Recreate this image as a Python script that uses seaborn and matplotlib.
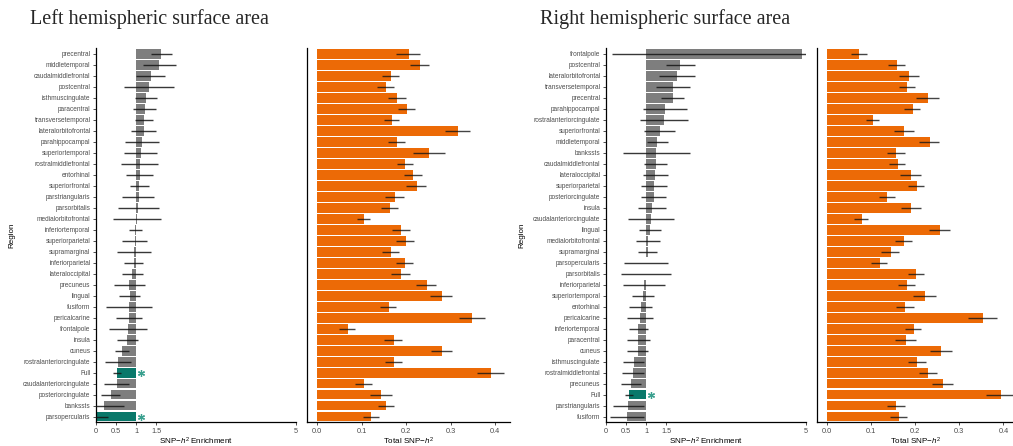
import numpy as np
import pandas as pd
import matplotlib
matplotlib.use("Agg")
import matplotlib.pyplot as plt
import seaborn as sns

# ---------------- Left hemisphere ----------------
left_regions = [
    "precentral", "middletemporal", "caudalmiddlefrontal", "postcentral",
    "isthmuscingulate", "paracentral", "transversetemporal", "lateralorbitofrontal",
    "parahippocampal", "superiortemporal", "rostralmiddlefrontal", "entorhinal",
    "superiorfrontal", "parstriangularis", "parsorbitalis", "medialorbitofrontal",
    "inferiortemporal", "superiorparietal", "supramarginal", "inferiorparietal",
    "lateraloccipital", "precuneus", "lingual", "fusiform", "pericalcarine",
    "frontalpole", "insula", "cuneus", "rostralanteriorcingulate", "Full",
    "caudalanteriorcingulate", "posteriorcingulate", "bankssts", "parsopercularis",
]
left_enrich = [1.63, 1.58, 1.37, 1.33, 1.25, 1.22, 1.20, 1.20, 1.15, 1.12, 1.10, 1.09,
               1.08, 1.07, 1.06, 1.02, 0.98, 0.975, 0.96, 0.95, 0.91, 0.83, 0.84, 0.82,
               0.82, 0.80, 0.78, 0.65, 0.54, 0.525, 0.52, 0.375, 0.19, 0.025]
left_enrich_lo = [1.38, 1.18, 0.99, 0.70, 0.98, 0.93, 0.97, 0.88, 0.73, 0.70, 0.63, 0.74,
                  0.85, 0.66, 0.55, 0.42, 0.83, 0.66, 0.53, 0.71, 0.64, 0.45, 0.58, 0.24,
                  0.50, 0.33, 0.53, 0.47, 0.22, 0.43, 0.20, 0.13, -0.10, -0.10]
left_enrich_hi = [1.90, 2.00, 1.73, 1.95, 1.52, 1.50, 1.43, 1.51, 1.58, 1.52, 1.54, 1.43,
                  1.32, 1.46, 1.57, 1.63, 1.14, 1.28, 1.37, 1.18, 1.18, 1.22, 1.10, 1.40,
                  1.14, 1.27, 1.06, 0.82, 0.88, 0.63, 0.82, 0.61, 0.71, 0.29]
left_sig = ["Full", "parsopercularis"]
left_h2 = [0.207, 0.231, 0.166, 0.155, 0.180, 0.202, 0.169, 0.317, 0.180, 0.252, 0.198,
           0.216, 0.225, 0.175, 0.164, 0.106, 0.189, 0.200, 0.166, 0.198, 0.189, 0.247,
           0.281, 0.162, 0.348, 0.070, 0.173, 0.281, 0.173, 0.391, 0.106, 0.144, 0.155,
           0.121]
left_h2_lo = [0.178, 0.209, 0.145, 0.135, 0.160, 0.183, 0.150, 0.288, 0.160, 0.216, 0.180,
              0.195, 0.200, 0.153, 0.144, 0.090, 0.169, 0.178, 0.146, 0.178, 0.166, 0.223,
              0.255, 0.142, 0.318, 0.050, 0.151, 0.256, 0.153, 0.359, 0.085, 0.120, 0.137,
              0.103]
left_h2_hi = [0.232, 0.251, 0.184, 0.172, 0.200, 0.220, 0.185, 0.343, 0.198, 0.287, 0.215,
              0.235, 0.246, 0.195, 0.181, 0.120, 0.208, 0.219, 0.185, 0.216, 0.208, 0.268,
              0.303, 0.178, 0.378, 0.085, 0.190, 0.304, 0.192, 0.421, 0.123, 0.168, 0.174,
              0.139]

# ---------------- Right hemisphere ----------------
right_regions = [
    "frontalpole", "postcentral", "lateralorbitofrontal", "transversetemporal",
    "precentral", "parahippocampal", "rostralanteriorcingulate", "superiorfrontal",
    "middletemporal", "bankssts", "caudalmiddlefrontal", "lateraloccipital",
    "superiorparietal", "posteriorcingulate", "insula", "caudalanteriorcingulate",
    "lingual", "medialorbitofrontal", "supramarginal", "parsopercularis",
    "parsorbitalis", "inferiorparietal", "superiortemporal", "entorhinal",
    "pericalcarine", "inferiortemporal", "paracentral", "cuneus", "isthmuscingulate",
    "rostralmiddlefrontal", "precuneus", "Full", "parstriangularis", "fusiform",
]
right_enrich = [4.90, 1.85, 1.775, 1.67, 1.67, 1.47, 1.44, 1.34, 1.275, 1.26, 1.24, 1.225,
                1.21, 1.19, 1.15, 1.125, 1.11, 1.04, 1.04, 1.01, 1.00, 0.95, 0.925, 0.867,
                0.85, 0.81, 0.81, 0.80, 0.70, 0.675, 0.633, 0.575, 0.56, 0.525]
right_enrich_lo = [0.15, 1.49, 1.33, 1.26, 1.38, 0.92, 0.84, 0.95, 1.03, 0.43, 0.95, 0.92,
                   0.88, 0.875, 0.79, 0.56, 0.83, 0.74, 0.80, 0.45, 0.38, 0.43, 0.65, 0.575,
                   0.525, 0.575, 0.52, 0.525, 0.43, 0.40, 0.375, 0.47, 0.175, 0.10]
right_enrich_hi = [5.05, 2.22, 2.23, 2.09, 1.96, 2.03, 2.05, 1.73, 1.54, 2.11, 1.53, 1.55,
                   1.53, 1.51, 1.51, 1.69, 1.38, 1.35, 1.275, 1.56, 1.62, 1.47, 1.21, 1.14,
                   1.17, 1.04, 1.09, 1.06, 0.96, 0.94, 0.88, 0.675, 0.94, 0.94]
right_sig = ["Full"]
right_h2 = [0.073, 0.159, 0.186, 0.181, 0.229, 0.195, 0.104, 0.175, 0.234, 0.156, 0.161,
            0.190, 0.204, 0.136, 0.190, 0.079, 0.256, 0.175, 0.145, 0.120, 0.202, 0.181,
            0.222, 0.177, 0.354, 0.197, 0.179, 0.258, 0.204, 0.229, 0.263, 0.395, 0.156,
            0.163]
right_h2_lo = [0.055, 0.138, 0.163, 0.163, 0.203, 0.175, 0.088, 0.152, 0.209, 0.136, 0.141,
               0.166, 0.183, 0.117, 0.168, 0.061, 0.231, 0.154, 0.123, 0.101, 0.184, 0.160,
               0.194, 0.156, 0.320, 0.177, 0.154, 0.234, 0.184, 0.209, 0.239, 0.361, 0.136,
               0.143]
right_h2_hi = [0.090, 0.178, 0.209, 0.200, 0.255, 0.212, 0.119, 0.197, 0.255, 0.176, 0.178,
               0.213, 0.221, 0.154, 0.213, 0.094, 0.280, 0.192, 0.163, 0.137, 0.220, 0.200,
               0.248, 0.197, 0.385, 0.214, 0.203, 0.283, 0.224, 0.249, 0.285, 0.425, 0.178,
               0.181]

# ---------------- Style ----------------
sns.set_theme(style="ticks")
plt.rcParams["font.family"] = ["Liberation Sans", "DejaVu Sans"]
plt.rcParams["mathtext.fontset"] = "custom"
plt.rcParams["mathtext.rm"] = "Liberation Sans"
plt.rcParams["mathtext.it"] = "Liberation Sans:italic"

GRAY = "#7e7e7e"
TEAL = "#09786a"
STAR = "#3aa08f"
ORANGE = "#ec6a06"
ERR = "#151515"
TICK_TXT = "#4d4d4d"

W, H = 1013, 446
fig = plt.figure(figsize=(W / 100, H / 100), dpi=100)

TOP, BOTTOM = 48.5, 422.0


def axes_px(x0, x1):
    return fig.add_axes([x0 / W, 1 - BOTTOM / H, (x1 - x0) / W, (BOTTOM - TOP) / H])


def style_axes(ax):
    sns.despine(ax=ax)
    for side in ("left", "bottom"):
        ax.spines[side].set_linewidth(0.9)
        ax.spines[side].set_color("black")
    ax.tick_params(axis="both", length=2.5, width=0.6, color="#333333", pad=1.5)
    ax.tick_params(axis="x", labelsize=5.3, labelcolor=TICK_TXT)
    ax.tick_params(axis="y", labelsize=4.7, labelcolor=TICK_TXT)
    ax.grid(False)


def enrichment_panel(ax, regions, enrich, lo, hi, sig):
    n = len(regions)
    df = pd.DataFrame({
        "region": regions,
        "shift": np.asarray(enrich) - 1.0,
        "group": ["sig" if r in sig else "ns" for r in regions],
    })
    # bars start at an enrichment of 1 and extend to each region's value
    sns.barplot(data=df, x="shift", y="region", hue="group", order=regions,
                palette={"ns": GRAY, "sig": TEAL}, dodge=False, legend=False,
                errorbar=None, width=0.9, saturation=1, linewidth=0, left=1.0, ax=ax)
    ax.hlines(np.arange(n), lo, hi, color=ERR, lw=1.0, alpha=0.85, zorder=3)
    for i, r in enumerate(regions):
        if r in sig:
            ax.plot(1.12, i, marker=(6, 2, 0), ms=5, mew=0.9, color=STAR,
                    zorder=4, clip_on=False)
    ax.set_xlim(0, 5)
    ax.set_ylim(n - 0.5, -0.5)
    ax.set_xticks([0, 0.5, 1, 1.5, 5])
    ax.set_xticklabels(["0", "0.5", "1", "1.5", "5"])
    style_axes(ax)
    ax.set_xlabel(r"SNP$-h^2$ Enrichment", fontsize=5.8, color="black")
    ax.set_ylabel("Region", fontsize=5.8, color="black")
    ax.xaxis.set_label_coords(0.5, -0.036)
    ax.yaxis.set_label_coords(-0.405, 0.5)


def h2_panel(ax, regions, h2, lo, hi, xmax):
    n = len(regions)
    df = pd.DataFrame({"region": regions, "h2": h2})
    sns.barplot(data=df, x="h2", y="region", order=regions, color=ORANGE,
                errorbar=None, width=0.9, saturation=1, linewidth=0, ax=ax)
    ax.hlines(np.arange(n), lo, hi, color=ERR, lw=1.0, alpha=0.8, zorder=3)
    ax.set_xlim(-0.0225, xmax)
    ax.set_ylim(n - 0.5, -0.5)
    ticks = [0.0, 0.1, 0.2, 0.3, 0.4]
    ax.set_xticks(ticks)
    ax.set_xticklabels([f"{t:.1f}" for t in ticks])
    style_axes(ax)
    ax.tick_params(axis="y", left=False, labelleft=False)
    ax.set_ylabel("")
    ax.set_xlabel(r"Total SNP$-h^2$", fontsize=5.8, color="black")
    ax.xaxis.set_label_coords(0.5, -0.036)


ax1 = axes_px(96, 296)
enrichment_panel(ax1, left_regions, left_enrich, left_enrich_lo, left_enrich_hi, left_sig)
ax2 = axes_px(307, 510)
h2_panel(ax2, left_regions, left_h2, left_h2_lo, left_h2_hi, 0.4337)

ax3 = axes_px(606, 806)
enrichment_panel(ax3, right_regions, right_enrich, right_enrich_lo, right_enrich_hi, right_sig)
ax4 = axes_px(817, 1013)
h2_panel(ax4, right_regions, right_h2, right_h2_lo, right_h2_hi, 0.4218)

fig.text(30 / W, 1 - 19 / H, "Left hemispheric surface area", family="Liberation Serif",
         fontsize=14.5, ha="left", va="center")
fig.text(540 / W, 1 - 19 / H, "Right hemispheric surface area", family="Liberation Serif",
         fontsize=14.5, ha="left", va="center")

fig.savefig("out.png", dpi=100)
